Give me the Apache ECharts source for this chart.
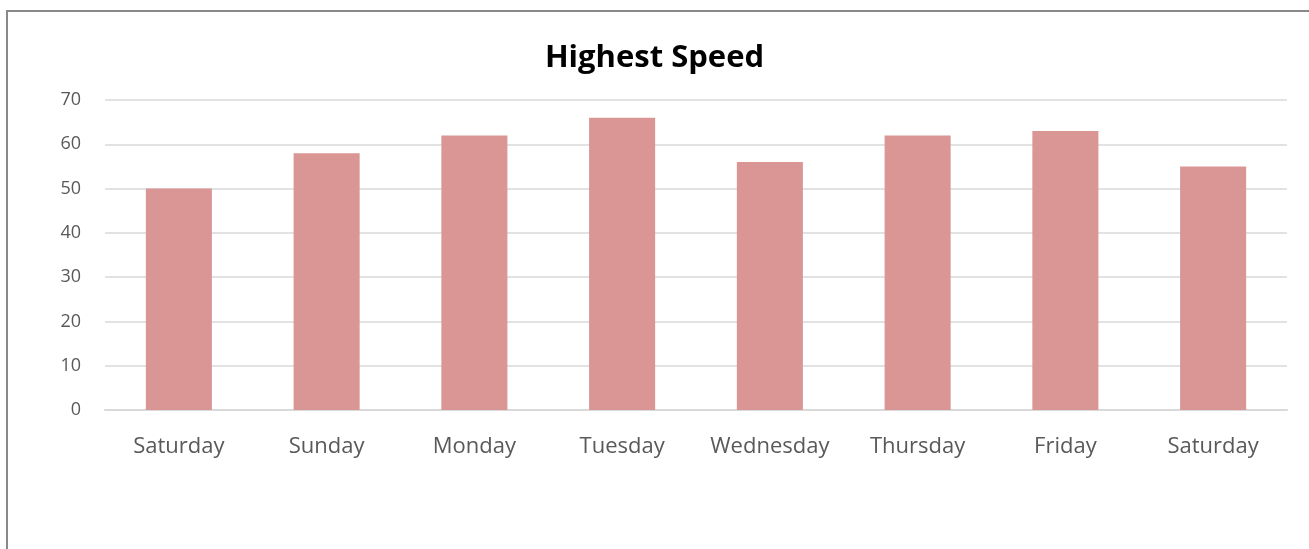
<!DOCTYPE html>
<html><head><meta charset="utf-8">
<script src="https://cdn.jsdelivr.net/npm/echarts@6/dist/echarts.min.js"></script>
<style>html,body{margin:0;padding:0;background:#fff}#c{width:1309px;height:549px}</style>
</head><body><div id="c"></div>
<script>
const categories = ["Saturday","Sunday","Monday","Tuesday","Wednesday","Thursday","Friday","Saturday"];
const speedValues = [50,58,62,66,56,62,63,55];
const chart = echarts.init(document.getElementById('c'), null, {renderer:'canvas'});
chart.setOption({
  animation:false,
  backgroundColor:'#fff',
  graphic:[{type:'rect',shape:{x:7,y:11,width:1310,height:560},style:{fill:'none',stroke:'#898989',lineWidth:2}}],
  title:{text:'Highest Speed',left:'center',top:38,textStyle:{fontFamily:'Open Sans',fontWeight:'bold',fontSize:31,color:'#000'}},
  grid:{left:105,right:22,top:100,bottom:139},
  xAxis:{type:'category',data:categories,
    axisLine:{lineStyle:{color:'#d9d9d9',width:2}},axisTick:{show:false},
    axisLabel:{interval:0,fontFamily:'Open Sans',fontSize:22,color:'#595959',margin:26}},
  yAxis:{type:'value',min:0,max:70,interval:10,
    axisLine:{show:false},axisTick:{show:false},
    splitLine:{lineStyle:{color:'#d9d9d9',width:1.5}},
    axisLabel:{fontFamily:'Open Sans',fontSize:18,color:'#595959',margin:24}},
  series:[{type:'bar',data:speedValues,barWidth:'44.7%',itemStyle:{color:'#DA9694'}}]
});
</script></body></html>
